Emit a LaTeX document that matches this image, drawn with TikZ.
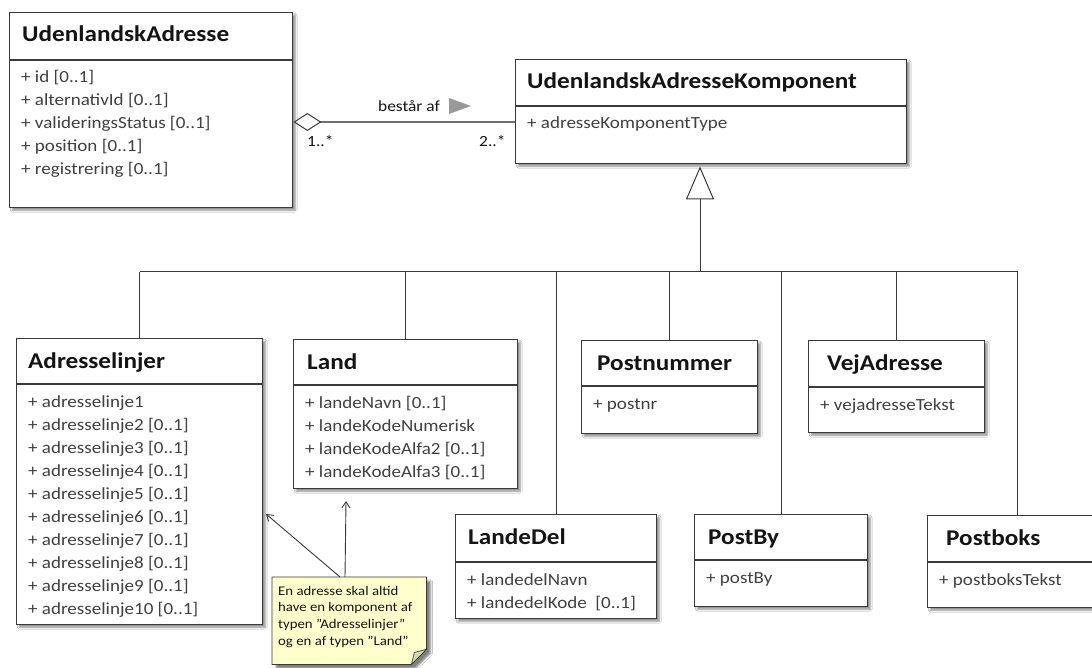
\documentclass[tikz,border=0pt]{standalone}
\usepackage{fontspec}
\setmainfont{Carlito}[FakeStretch=1.12]
\usetikzlibrary{calc,arrows.meta,shadows.blur}

\definecolor{umlline}{HTML}{3A3A3A}
\definecolor{umltext}{HTML}{404040}
\definecolor{umltitle}{HTML}{141414}
\definecolor{assocgrey}{HTML}{707070}
\definecolor{navgrey}{HTML}{999999}
\definecolor{notefill}{HTML}{FFFFCC}
\definecolor{notefold}{HTML}{D8D8B0}

\tikzset{
  classbox/.style={draw=umlline, line width=1.4pt, fill=white, inner sep=0pt,
    blur shadow={shadow xshift=2.5pt, shadow yshift=-2.5pt, shadow blur steps=6, shadow opacity=45}},
  classline/.style={draw=umlline, line width=1.1pt},
  classtitle/.style={anchor=base west, inner sep=0pt, text=umltitle,
    font=\bfseries\fontsize{22.5}{27}\selectfont},
  classattr/.style={anchor=base west, inner sep=0pt, text=umltext,
    font=\fontsize{17}{20}\selectfont},
  assoclabel/.style={anchor=base west, inner sep=0pt, text=umltitle,
    font=\fontsize{15.5}{18}\selectfont},
  genline/.style={draw=umlline, line width=1pt},
  notebox/.style={fill=notefill, draw=umlline, line width=0.8pt,
    blur shadow={shadow xshift=4pt, shadow yshift=-4pt, shadow blur steps=5, shadow opacity=50}},
  notetext/.style={anchor=base west, inner sep=0pt, text=umltitle,
    font=\fontsize{13.2}{16}\selectfont},
  notearrow/.style={draw=umlline, line width=0.9pt, -{Straight Barb[length=6pt, width=8pt]}}
}

% name, left, top, width, height, header, title offset, title, attributes
\newcommand\umlclass[9]{%
  \node[classbox, minimum width=#4pt, minimum height=#5pt, anchor=north west] (#1) at (#2,-#3) {};
  \draw[classline] ($(#1.north west)+(0,-#6)$) -- ($(#1.north east)+(0,-#6)$);
  \node[classtitle] (#1-t) at ($(#1.north west)+(#7,-30)$) {#8};
  \foreach \a [count=\i] in {#9}
    \node[classattr] (#1-a\i) at ($(#1.north west)+(12,{-#6-23-23*(\i-1)})$) {\a};
}

\begin{document}
\begin{tikzpicture}[x=1pt, y=1pt]
  \useasboundingbox (0,0) rectangle (1092,-668);
  \clip (0,0) rectangle (1092,-668);
  \fill[white] (0,0) rectangle (1092,-668);

  % classes
  \umlclass{ua}{9}{12}{283}{195}{48}{13}{UdenlandskAdresse}%
    {+ id [0..1], + alternativId [0..1], + valideringsStatus [0..1], + position [0..1], + registrering [0..1]}
  \umlclass{uak}{515}{59}{391}{104}{47}{12}{UdenlandskAdresseKomponent}{+ adresseKomponentType}
  \umlclass{adr}{16}{338}{246}{286}{46}{12}{Adresselinjer}%
    {+ adresselinje1, + adresselinje2 [0..1], + adresselinje3 [0..1], + adresselinje4 [0..1],
     + adresselinje5 [0..1], + adresselinje6 [0..1], + adresselinje7 [0..1], + adresselinje8 [0..1],
     + adresselinje9 [0..1], + adresselinje10 [0..1]}
  \umlclass{land}{293}{339}{224}{149}{46}{14}{Land}%
    {+ landeNavn [0..1], + landeKodeNumerisk, + landeKodeAlfa2 [0..1], + landeKodeAlfa3 [0..1]}
  \umlclass{pnr}{581}{340}{176}{93}{46}{16}{Postnummer}{+ postnr}
  \umlclass{vej}{808}{340}{176}{92}{47}{19}{VejAdresse}{+ vejadresseTekst}
  \umlclass{ldel}{455}{514}{201}{104}{48}{13}{LandeDel}{+ landedelNavn, + landedelKode\enspace[0..1]}
  \umlclass{pby}{694}{514}{173}{92}{46}{14}{PostBy}{+ postBy}
  \umlclass{pbk}{927}{515}{180}{92}{47}{19}{Postboks}{+ postboksTekst}

  % aggregation
  \draw[assocgrey, line width=1.2pt, {Diamond[open, length=28pt, width=18pt, line width=1pt, color=umlline]}-]
    ($(ua.north east)+(0,-110)$) -- ($(uak.north west)+(0,-63)$);
  \node[assoclabel] (assocname) at (378,-111.7) {består af};
  \fill[navgrey] (449,-98) -- (471,-106) -- (449,-114) -- cycle;
  \node[assoclabel] (multua) at (307,-146.7) {1..*};
  \node[assoclabel] (multuak) at (479,-146.7) {2..*};

  % generalization
  \coordinate (bus) at (700,-272);
  \draw[genline, shorten >=2pt, -{Triangle[open, length=33pt, width=28pt, line width=1pt]}]
    (bus) -- (bus |- uak.south);
  \draw[genline] (adr.north |- bus) -- (pbk.north |- bus);
  \foreach \c in {adr,land,ldel,pnr,pby,vej,pbk}
    \draw[genline] (\c.north) -- (\c.north |- bus);

  % note
  \node[minimum width=154pt, minimum height=87pt, anchor=north west, inner sep=0pt] (note) at (272,-577) {};
  \filldraw[notebox] (note.north west) -- (note.north east) -- ($(note.south east)+(0,15)$)
    -- ($(note.south east)+(-15,0)$) -- (note.south west) -- cycle;
  \filldraw[fill=notefold, draw=umlline, line width=0.7pt] ($(note.south east)+(0,15)$)
    -- ($(note.south east)+(-15,0)$) -- ($(note.south east)+(-12,12)$) -- cycle;
  \foreach \l [count=\i] in {En adresse skal altid, have en komponent af,
      typen ”Adresselinjer”, og en af typen ”Land”}
    \node[notetext] (note-l\i) at ($(note.north west)+(6,{-18-16.7*(\i-1)})$) {\l};
  \coordinate (adrtip) at (266,-514);
  \coordinate (landtip) at (346,-501);
  \draw[notearrow] ($(note.north west)+(68,0)$) -- (adrtip);
  \draw[notearrow] ($(note.north west)+(73,0)$) -- (landtip);
\end{tikzpicture}
\end{document}
